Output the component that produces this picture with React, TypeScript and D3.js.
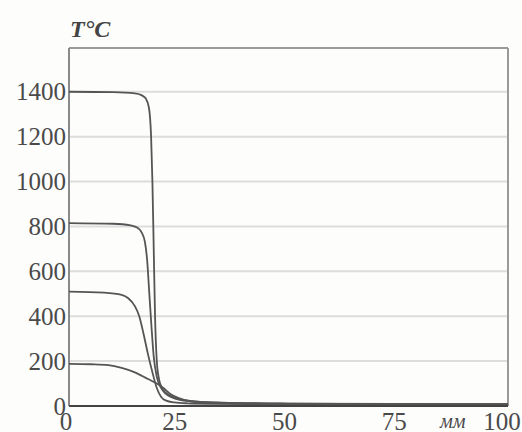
import React from "react";
import * as d3 from "d3";

const xTicks = [0, 25, 50, 75, 100];
const yTicks = [0, 200, 400, 600, 800, 1000, 1200, 1400];

const x1400 = [0, 10, 15, 16.5, 17.5, 18.2, 18.7, 19.0, 19.3, 19.6, 20.0, 20.5, 21.2, 22, 23.5, 25, 28, 35, 50, 75, 100];
const y1400 = [1400, 1398, 1393, 1385, 1370, 1330, 1200, 1000, 700, 400, 200, 120, 80, 60, 42, 32, 22, 15, 11, 9, 8];

const x800 = [0, 10, 14, 15.5, 16.5, 17.3, 17.8, 18.3, 18.8, 19.3, 20, 21, 22, 23.5, 25, 28, 35, 50, 75, 100];
const y800 = [815, 812, 805, 795, 775, 730, 650, 500, 350, 220, 130, 80, 55, 38, 28, 20, 14, 10, 8, 7];

const x500 = [0, 8, 12, 13.5, 15, 16, 17, 18, 19, 20, 21, 22, 24, 27, 32, 50, 75, 100];
const y500 = [510, 505, 495, 480, 445, 400, 320, 230, 150, 80, 40, 25, 16, 12, 10, 8, 7, 7];

const x200 = [0, 5, 9, 12, 15, 18, 20, 21.5, 23, 25, 28, 32, 40, 50, 75, 100];
const y200 = [188, 186, 182, 170, 150, 120, 100, 80, 55, 35, 20, 14, 11, 9, 8, 8];

const series = [
  { xs: x1400, ys: y1400 },
  { xs: x800, ys: y800 },
  { xs: x500, ys: y500 },
  { xs: x200, ys: y200 },
];

export default function App() {
  const W = 522, H = 432;
  const left = 69, right = 508, top = 48, bottom = 406;
  const x = d3.scaleLinear().domain([0, 100]).range([left, right]);
  const y = d3.scaleLinear().domain([0, 1595]).range([bottom, top]);
  const line = d3
    .line<[number, number]>()
    .x((d) => x(d[0]))
    .y((d) => y(d[1]))
    .curve(d3.curveMonotoneX);
  const serif = "'Liberation Serif', 'DejaVu Serif', serif";
  return (
    <svg
      width={W}
      height={H}
      style={{ position: "absolute", left: 0, top: 0, background: "#fff" }}
    >
      <rect x={0} y={0} width={W} height={H} fill="#fdfdfc" />
      {yTicks.filter((t) => t > 0).map((t) => (
        <line key={t} x1={left} x2={right} y1={y(t)} y2={y(t)} stroke="#dcdedd" strokeWidth={2} />
      ))}
      <line x1={left} x2={right} y1={top} y2={top} stroke="#9a9a9a" strokeWidth={2} />
      <line x1={right} x2={right} y1={top} y2={bottom} stroke="#9a9a9a" strokeWidth={2} />
      <line x1={left} x2={left} y1={top} y2={bottom} stroke="#8a8a8a" strokeWidth={2} />
      {series.map((s, i) => (
        <path
          key={i}
          d={line(s.xs.map((v, j) => [v, s.ys[j]] as [number, number])) || ""}
          fill="none"
          stroke="#555"
          strokeWidth={1.8}
        />
      ))}
      <line x1={left} x2={right} y1={bottom} y2={bottom} stroke="#444" strokeWidth={2.2} />
      {yTicks.map((t) => (
        <text
          key={t}
          x={left - 3}
          y={y(t)}
          textAnchor="end"
          dominantBaseline="central"
          fontFamily={serif}
          fontSize={25}
          fill="#4a4a4a"
        >
          {t}
        </text>
      ))}
      {xTicks.map((t) => (
        <text
          key={t}
          x={t === 0 ? x(t) - 3 : t === 100 ? x(t) - 6 : x(t) - 4}
          y={430}
          textAnchor="middle"
          fontFamily={serif}
          fontSize={25}
          fill="#4a4a4a"
        >
          {t}
        </text>
      ))}
      <text x={440} y={428} fontFamily={serif} fontStyle="italic" fontSize={20} fill="#4a4a4a">
        мм
      </text>
      <text x={70} y={37} fontFamily={serif} fontStyle="italic" fontWeight="bold" fontSize={24} fill="#444">
        T°C
      </text>
    </svg>
  );
}
